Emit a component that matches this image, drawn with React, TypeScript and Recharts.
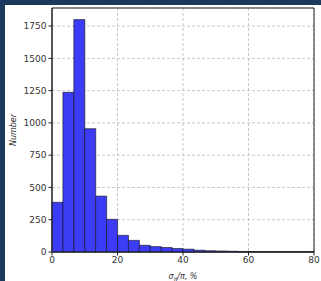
import React from 'react';
import { BarChart, Bar, XAxis, YAxis, CartesianGrid, ReferenceArea, Label } from 'recharts';

// histogram counts, 24 bins spanning 0..80
const COUNTS = [385, 1237, 1800, 955, 433, 253, 129, 90, 52, 42, 35, 27, 22, 14, 10, 8, 6, 4, 3, 2, 3, 2, 2, 3];
const X_MAX = 80;
const X_TICKS = [0, 20, 40, 60, 80];
const Y_TICKS = [0, 250, 500, 750, 1000, 1250, 1500, 1750];

const binWidth = X_MAX / COUNTS.length;
const data = COUNTS.map((count, i) => ({ bin: i, mid: (i + 0.5) * binWidth, count }));

const FONT = 'DejaVu Sans';
const tickStyle = { fontSize: 9, fill: '#333', fontFamily: FONT };

const App: React.FC = () => {
  return (
    <div style={{ position: 'absolute', left: 0, top: 0, width: 321, height: 281, background: '#1d3a5e' }}>
      <div style={{ position: 'absolute', left: 5, top: 5, width: 316, height: 276, background: '#fff' }}>
        <BarChart
          width={316}
          height={276}
          data={data}
          barCategoryGap={0}
          margin={{ top: 3, right: 7, left: 0, bottom: 0 }}
        >
          <XAxis xAxisId="cat" dataKey="bin" orientation="top" hide />
          <XAxis
            xAxisId="num"
            dataKey="mid"
            type="number"
            domain={[0, X_MAX]}
            ticks={X_TICKS}
            allowDataOverflow
            height={29}
            tick={{ ...tickStyle, dy: -1 }}
            tickSize={3.5}
            stroke="#222"
            tickLine={{ stroke: '#222' }}
          >
            <Label
              position="insideBottom"
              content={() => (
                <text x={178} y={274} textAnchor="middle" fontFamily={FONT} fontSize={8} fontStyle="italic" fill="#333">
                  σ<tspan fontSize={6} dy={1.5}>π</tspan><tspan dy={-1.5}>/π, %</tspan>
                </text>
              )}
            />
          </XAxis>
          <YAxis
            type="number"
            domain={[0, 1890]}
            ticks={Y_TICKS}
            width={47}
            tick={tickStyle}
            tickSize={3.5}
            stroke="#222"
            tickLine={{ stroke: '#222' }}
          >
            <Label
              value="Number"
              angle={-90}
              position="insideLeft"
              offset={8}
              style={{ fontFamily: FONT, fontSize: 8, fontStyle: 'italic', fill: '#333', textAnchor: 'middle' }}
            />
          </YAxis>
          <CartesianGrid xAxisId="num" stroke="#c8c8c8" strokeDasharray="3 2" />
          <Bar
            xAxisId="cat"
            dataKey="count"
            fill="#3c3cf6"
            stroke="#111"
            strokeWidth={0.6}
            isAnimationActive={false}
          />
          <ReferenceArea
            xAxisId="num"
            x1={0}
            x2={X_MAX}
            y1={0}
            y2={1890}
            ifOverflow="visible"
            fill="none"
            fillOpacity={0}
            stroke="#222"
            strokeWidth={1}
          />
        </BarChart>
      </div>
    </div>
  );
};

export default App;
